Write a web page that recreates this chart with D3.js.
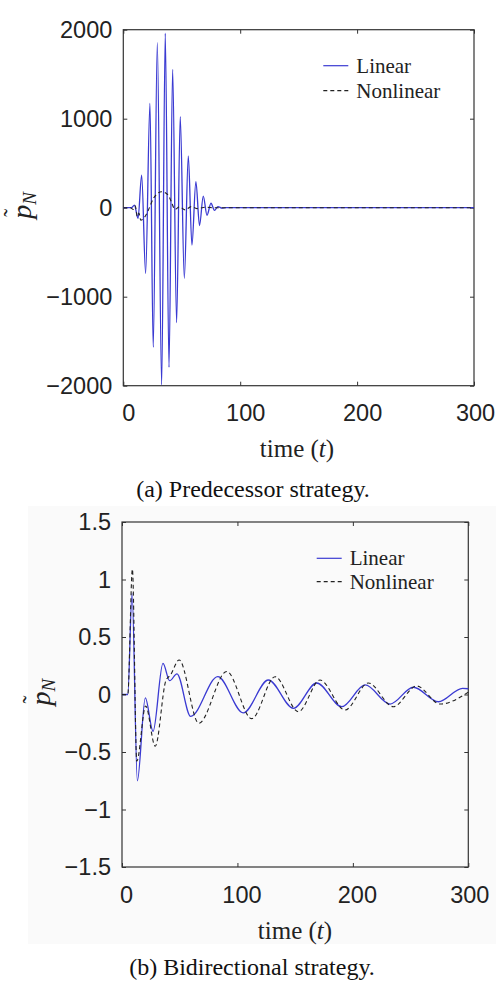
<!DOCTYPE html>
<html>
<head>
<meta charset="utf-8">
<script src="https://cdn.jsdelivr.net/npm/d3@7"></script>
<style>
  body { margin: 0; background: #fff; }
  svg { display: block; }
</style>
</head>
<body>
<div id="okvir"></div>
<script>
// ---- podaci (vrijednosti ocitane sa slike) ----
var xTicks = [0, 100, 200, 300];
var yTicksA = [-2000, -1000, 0, 1000, 2000];
var yTicksB = [-1.5, -1, -0.5, 0, 0.5, 1, 1.5];
var legendLabels = ["Linear", "Nonlinear"];

// (a) predecessor - ekstremi [t, p]
var linearA = [[0, 0], [7, 0], [9.5, 30], [12.6, -120], [15.7, 367], [19.1, -737], [22.8, 1173],
  [25.6, -1569], [29.1, 1854], [32.8, -1992], [35.9, 1960], [39.1, -1793], [42.2, 1555],
  [45.6, -1292], [48.7, 1022], [52.2, -793], [55.6, 581], [58.7, -419], [62.1, 292],
  [65.2, -200], [68.4, 131], [71.6, -85], [75, 50], [78, -30], [81, 12], [84.5, -5], [88, 0], [300, 0]];
var nonlinearA = [[0, 0], [6, 0], [8.6, -20], [10.2, 20], [12, -100], [13.4, -60], [14.9, -140],
  [18, -110], [21, -40], [25.6, 100], [32.8, 180], [38.5, 140], [41, 70], [44.2, -20],
  [48, 10], [53, -25], [58, 12], [63, -10], [70, 5], [78, 0], [300, 0]];

// (b) bidirectional
var linearB = [[0, 0], [5, 0], [8.7, 0.88], [13.3, -0.75], [20.2, -0.03], [26.9, -0.32],
  [35.5, 0.27], [41.3, 0.12], [47.6, 0.18], [59.5, -0.19], [83, 0.155], [105, -0.16],
  [126.8, 0.126], [148.5, -0.12], [168.7, 0.1], [190.4, -0.106], [210.6, 0.083],
  [232.2, -0.083], [252.4, 0.063], [274.1, -0.063], [295, 0.054], [300, 0.05]];
var nonlinearB = [[0, 0], [5, 0], [9, 1.09], [12.8, -0.58], [20.5, -0.1], [28.8, -0.45],
  [38, 0.12], [42, 0.17], [49.5, 0.3], [66.5, -0.25], [90.7, 0.2], [112.4, -0.21],
  [132.6, 0.155], [152.8, -0.15], [171.5, 0.126], [193.2, -0.135], [213.4, 0.1],
  [235, -0.106], [255.3, 0.074], [275.6, -0.083], [300, 0.02]];

var width = 496;
var height = 987;
var serif = "'Liberation Serif', 'Times New Roman', serif";

var svg = d3.select("#okvir")
  .append("svg")
  .attr("width", width)
  .attr("height", height);

// blagi sivi okvir oko donje slike
svg.append("rect")
  .attr("x", 28).attr("y", 506)
  .attr("width", 468).attr("height", 438)
  .attr("fill", "#fafafa");

function crtajPanel(p) {
  var x = d3.scaleLinear().domain([0, 300]).range([p.left, p.right]);
  var y = d3.scaleLinear().domain(p.yDomain).range([p.bottom, p.top]);

  var g = svg.append("g");

  // donja os
  var xAx = g.append("g")
    .attr("transform", "translate(0," + p.bottom + ")")
    .call(d3.axisBottom(x).tickValues(xTicks).tickSizeInner(-4).tickSizeOuter(0).tickPadding(19));
  xAx.selectAll("text").attr("dx", d => d === 300 ? 1 : p.xLabDx);

  // gornja os (samo crtice)
  g.append("g")
    .attr("transform", "translate(0," + p.top + ")")
    .call(d3.axisTop(x).tickValues(xTicks).tickSizeInner(-4).tickSizeOuter(0).tickFormat(""));

  // lijeva os
  g.append("g")
    .attr("transform", "translate(" + p.left + ",0)")
    .call(d3.axisLeft(y).tickValues(p.yTicks).tickSizeInner(-4).tickSizeOuter(0).tickPadding(11)
      .tickFormat(d3.format("~g")));

  // desna os (samo crtice)
  g.append("g")
    .attr("transform", "translate(" + p.right + ",0)")
    .call(d3.axisRight(y).tickValues(p.yTicks).tickSizeInner(-4).tickSizeOuter(0).tickFormat(""));

  g.selectAll(".domain").remove();
  g.selectAll(".tick line").attr("stroke", "#333");
  g.selectAll(".tick text")
    .style("font-family", "'Liberation Sans', Arial, sans-serif")
    .style("font-size", "23.5px")
    .attr("fill", "#222");

  // okvir
  g.append("rect")
    .attr("x", p.left).attr("y", p.top)
    .attr("width", p.right - p.left).attr("height", p.bottom - p.top)
    .attr("fill", "none")
    .attr("stroke", "#333")
    .attr("stroke-width", 1.2);

  var line = d3.line()
    .x(d => x(d[0]))
    .y(d => y(d[1]))
    .curve(d3.curveMonotoneX);

  // linearni
  g.append("path")
    .datum(p.linear)
    .attr("d", line)
    .attr("fill", "none")
    .attr("stroke", "#3a3ad2")
    .attr("stroke-width", 1.3);

  // nelinearni
  g.append("path")
    .datum(p.nonlinear)
    .attr("d", line)
    .attr("fill", "none")
    .attr("stroke", "#222")
    .attr("stroke-width", 1.1)
    .attr("stroke-dasharray", "4,3");

  // legenda
  var leg = g.append("g")
    .selectAll("g")
    .data(legendLabels)
    .enter()
    .append("g")
    .attr("transform", (d, i) => "translate(" + (p.left + p.legX) + "," + (p.top + p.legY + i * p.legStep) + ")");
  leg.append("line")
    .attr("x1", 0).attr("x2", 25)
    .attr("stroke", (d, i) => i === 0 ? "#3a3ad2" : "#222")
    .attr("stroke-width", 1.2)
    .attr("stroke-dasharray", (d, i) => i === 0 ? null : "4,3");
  leg.append("text")
    .attr("x", 33)
    .attr("dy", "0.33em")
    .text(d => d)
    .style("font-family", serif)
    .style("font-size", "21px")
    .attr("fill", "#222");

  // oznaka x osi
  var xl = g.append("text")
    .attr("x", p.xLabelX)
    .attr("y", p.bottom + 63)
    .attr("dy", "0.35em")
    .attr("text-anchor", "middle")
    .style("font-family", serif)
    .style("font-size", "25px")
    .attr("fill", "#222");
  xl.append("tspan").text("time (");
  xl.append("tspan").style("font-style", "italic").text("t");
  xl.append("tspan").text(")");

  // oznaka y osi (p s tildom i indeksom N)
  var yl = g.append("g")
    .attr("transform", "translate(" + p.yLabelX + "," + y(0) + ") rotate(-90)");
  yl.append("text")
    .attr("x", -11).attr("y", 4)
    .style("font-family", serif).style("font-style", "italic").style("font-size", "28px")
    .attr("fill", "#222")
    .text("p");
  yl.append("text")
    .attr("x", -9).attr("y", -7)
    .style("font-family", serif).style("font-size", "24px")
    .attr("fill", "#222")
    .text("˜");
  yl.append("text")
    .attr("x", 3).attr("y", 9)
    .style("font-family", serif).style("font-style", "italic").style("font-size", "19px")
    .attr("fill", "#222")
    .text("N");

  // naslov panela
  svg.append("text")
    .attr("x", p.capX)
    .attr("y", p.capY)
    .attr("dy", "0.35em")
    .attr("text-anchor", "middle")
    .style("font-family", serif)
    .style("font-size", "24px")
    .attr("fill", "#111")
    .text(p.caption);
}

crtajPanel({
  left: 123.3, right: 474, top: 29.7, bottom: 385.7,
  yDomain: [-2000, 2000], yTicks: yTicksA, xLabDx: 5,
  linear: linearA, nonlinear: nonlinearA,
  legX: 200, legY: 36, legStep: 25,
  xLabelX: 297, yLabelX: 27,
  caption: "(a) Predecessor strategy.", capX: 253, capY: 489
});

crtajPanel({
  left: 122, right: 468.3, top: 522, bottom: 867,
  yDomain: [-1.5, 1.5], yTicks: yTicksB, xLabDx: 4,
  linear: linearB, nonlinear: nonlinearB,
  legX: 194.7, legY: 36.3, legStep: 23.4,
  xLabelX: 295, yLabelX: 46,
  caption: "(b) Bidirectional strategy.", capX: 252, capY: 967
});
</script>
</body>
</html>
